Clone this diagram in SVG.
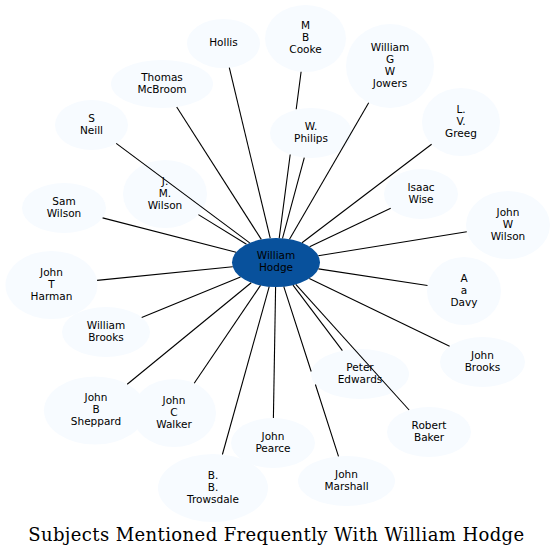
<svg xmlns="http://www.w3.org/2000/svg" width="555" height="557" viewBox="0 0 555 557">
<style>
.bg{fill:#ffffff}
.n ellipse{fill:#f7fbff;stroke:none}
#hodge ellipse{fill:#08519c}
.n text{font-family:"DejaVu Sans","Liberation Sans",sans-serif;font-size:10.5px;fill:#000;text-anchor:middle}
.e path{fill:none;stroke:#000;stroke-width:1.1}
.title{font-family:"DejaVu Serif","Liberation Serif",serif;font-size:18px;fill:#000;text-anchor:middle}
</style>
<rect class="bg" x="0" y="0" width="555" height="557"/>
<g id="nodes">
<g id="hodge" class="n"><ellipse cx="276" cy="262.5" rx="44" ry="24.5"/><text x="276" y="259.2"><tspan x="276">William</tspan><tspan x="276" dy="12">Hodge</tspan></text></g>
<g id="hollis" class="n"><ellipse cx="223.5" cy="43.5" rx="36.5" ry="24.5"/><text x="223.5" y="46.2">Hollis</text></g>
<g id="mcbroom" class="n"><ellipse cx="162" cy="84" rx="51" ry="24"/><text x="162" y="80.7"><tspan x="162">Thomas</tspan><tspan x="162" dy="12">McBroom</tspan></text></g>
<g id="neill" class="n"><ellipse cx="91.5" cy="125" rx="36.5" ry="25"/><text x="91.5" y="121.7"><tspan x="91.5">S</tspan><tspan x="91.5" dy="12">Neill</tspan></text></g>
<g id="jmwilson" class="n"><ellipse cx="165" cy="194" rx="42" ry="34"/><text x="165" y="184.7"><tspan x="165">J.</tspan><tspan x="165" dy="12">M.</tspan><tspan x="165" dy="12">Wilson</tspan></text></g>
<g id="samwilson" class="n"><ellipse cx="64" cy="208" rx="42" ry="25"/><text x="64" y="204.7"><tspan x="64">Sam</tspan><tspan x="64" dy="12">Wilson</tspan></text></g>
<g id="harman" class="n"><ellipse cx="51.5" cy="285" rx="46" ry="34"/><text x="51.5" y="275.7"><tspan x="51.5">John</tspan><tspan x="51.5" dy="12">T</tspan><tspan x="51.5" dy="12">Harman</tspan></text></g>
<g id="wbrooks" class="n"><ellipse cx="106" cy="332" rx="44" ry="25"/><text x="106" y="328.7"><tspan x="106">William</tspan><tspan x="106" dy="12">Brooks</tspan></text></g>
<g id="sheppard" class="n"><ellipse cx="95" cy="410.5" rx="51" ry="34"/><text x="96" y="401.2"><tspan x="96">John</tspan><tspan x="96" dy="12">B</tspan><tspan x="96" dy="12">Sheppard</tspan></text></g>
<g id="walker" class="n"><ellipse cx="174" cy="413" rx="42" ry="34"/><text x="174" y="403.7"><tspan x="174">John</tspan><tspan x="174" dy="12">C</tspan><tspan x="174" dy="12">Walker</tspan></text></g>
<g id="trowsdale" class="n"><ellipse cx="213" cy="488" rx="55" ry="34"/><text x="213" y="478.7"><tspan x="213">B.</tspan><tspan x="213" dy="12">B.</tspan><tspan x="213" dy="12">Trowsdale</tspan></text></g>
<g id="pearce" class="n"><ellipse cx="273" cy="443" rx="42" ry="25"/><text x="273" y="439.7"><tspan x="273">John</tspan><tspan x="273" dy="12">Pearce</tspan></text></g>
<g id="marshall" class="n"><ellipse cx="346.5" cy="481" rx="48.5" ry="25"/><text x="346.5" y="477.7"><tspan x="346.5">John</tspan><tspan x="346.5" dy="12">Marshall</tspan></text></g>
<g id="baker" class="n"><ellipse cx="429" cy="432" rx="42" ry="25"/><text x="429" y="428.7"><tspan x="429">Robert</tspan><tspan x="429" dy="12">Baker</tspan></text></g>
<g id="edwards" class="n"><ellipse cx="360" cy="374" rx="49" ry="25"/><text x="360" y="370.7"><tspan x="360">Peter</tspan><tspan x="360" dy="12">Edwards</tspan></text></g>
<g id="jbrooks" class="n"><ellipse cx="482.5" cy="362" rx="42.5" ry="25"/><text x="482.5" y="358.7"><tspan x="482.5">John</tspan><tspan x="482.5" dy="12">Brooks</tspan></text></g>
<g id="davy" class="n"><ellipse cx="464" cy="291" rx="37" ry="34"/><text x="464" y="281.7"><tspan x="464">A</tspan><tspan x="464" dy="12">a</tspan><tspan x="464" dy="12">Davy</tspan></text></g>
<g id="jwwilson" class="n"><ellipse cx="508" cy="225" rx="42" ry="34"/><text x="508" y="215.7"><tspan x="508">John</tspan><tspan x="508" dy="12">W</tspan><tspan x="508" dy="12">Wilson</tspan></text></g>
<g id="wise" class="n"><ellipse cx="421" cy="194" rx="37" ry="25"/><text x="421" y="190.7"><tspan x="421">Isaac</tspan><tspan x="421" dy="12">Wise</tspan></text></g>
<g id="greeg" class="n"><ellipse cx="461" cy="122" rx="39" ry="34"/><text x="461" y="112.7"><tspan x="461">L.</tspan><tspan x="461" dy="12">V.</tspan><tspan x="461" dy="12">Greeg</tspan></text></g>
<g id="jowers" class="n"><ellipse cx="390" cy="66" rx="44" ry="42"/><text x="390" y="50.7"><tspan x="390">William</tspan><tspan x="390" dy="12">G</tspan><tspan x="390" dy="12">W</tspan><tspan x="390" dy="12">Jowers</tspan></text></g>
<g id="cooke" class="n"><ellipse cx="305.5" cy="38.5" rx="40.5" ry="33.5"/><text x="305.5" y="29.2"><tspan x="305.5">M</tspan><tspan x="305.5" dy="12">B</tspan><tspan x="305.5" dy="12">Cooke</tspan></text></g>
<g id="philips" class="n"><ellipse cx="311" cy="133" rx="41" ry="25"/><text x="311" y="129.7"><tspan x="311">W.</tspan><tspan x="311" dy="12">Philips</tspan></text></g>
</g>
<g id="connectors" class="e">
<path d="M270.2,238.2 L229.3,67.7"/>
<path d="M261.3,239.4 L176.7,107"/>
<path d="M249.7,242.9 L116.2,143.4"/>
<path d="M246.5,244.3 L198.4,214.6"/>
<path d="M236.1,252.2 L102.6,217.9"/>
<path d="M232.7,266.8 L97.1,280.4"/>
<path d="M240.5,277 L141.7,317.4"/>
<path d="M251.2,282.8 L127.2,384.2"/>
<path d="M260.5,285.4 L194.2,383.2"/>
<path d="M269.2,286.7 L222.4,454.5"/>
<path d="M275.6,287 L273.4,418"/>
<path d="M283.8,286.6 L311.2,371.5 M315.4,384.5 L338.5,456.3"/>
<path d="M295.8,284.4 L409.1,410"/>
<path d="M293,285.1 L342.4,350.7"/>
<path d="M309.3,278.5 L449.6,346.2"/>
<path d="M318.4,268.9 L427.5,285.5"/>
<path d="M318.3,255.7 L466.8,231.7"/>
<path d="M309.6,246.7 L390.7,208.3"/>
<path d="M302,242.7 L431.6,144.3"/>
<path d="M289.5,239.2 L368.7,102.7"/>
<path d="M279.2,238.1 L290.2,154.5 M296.2,109.3 L301.1,71.8"/>
<path d="M282.5,238.3 L304.3,157.7"/>
</g>
<text class="title" x="276.2" y="541" textLength="496" lengthAdjust="spacing">Subjects Mentioned Frequently With William Hodge</text>
</svg>
